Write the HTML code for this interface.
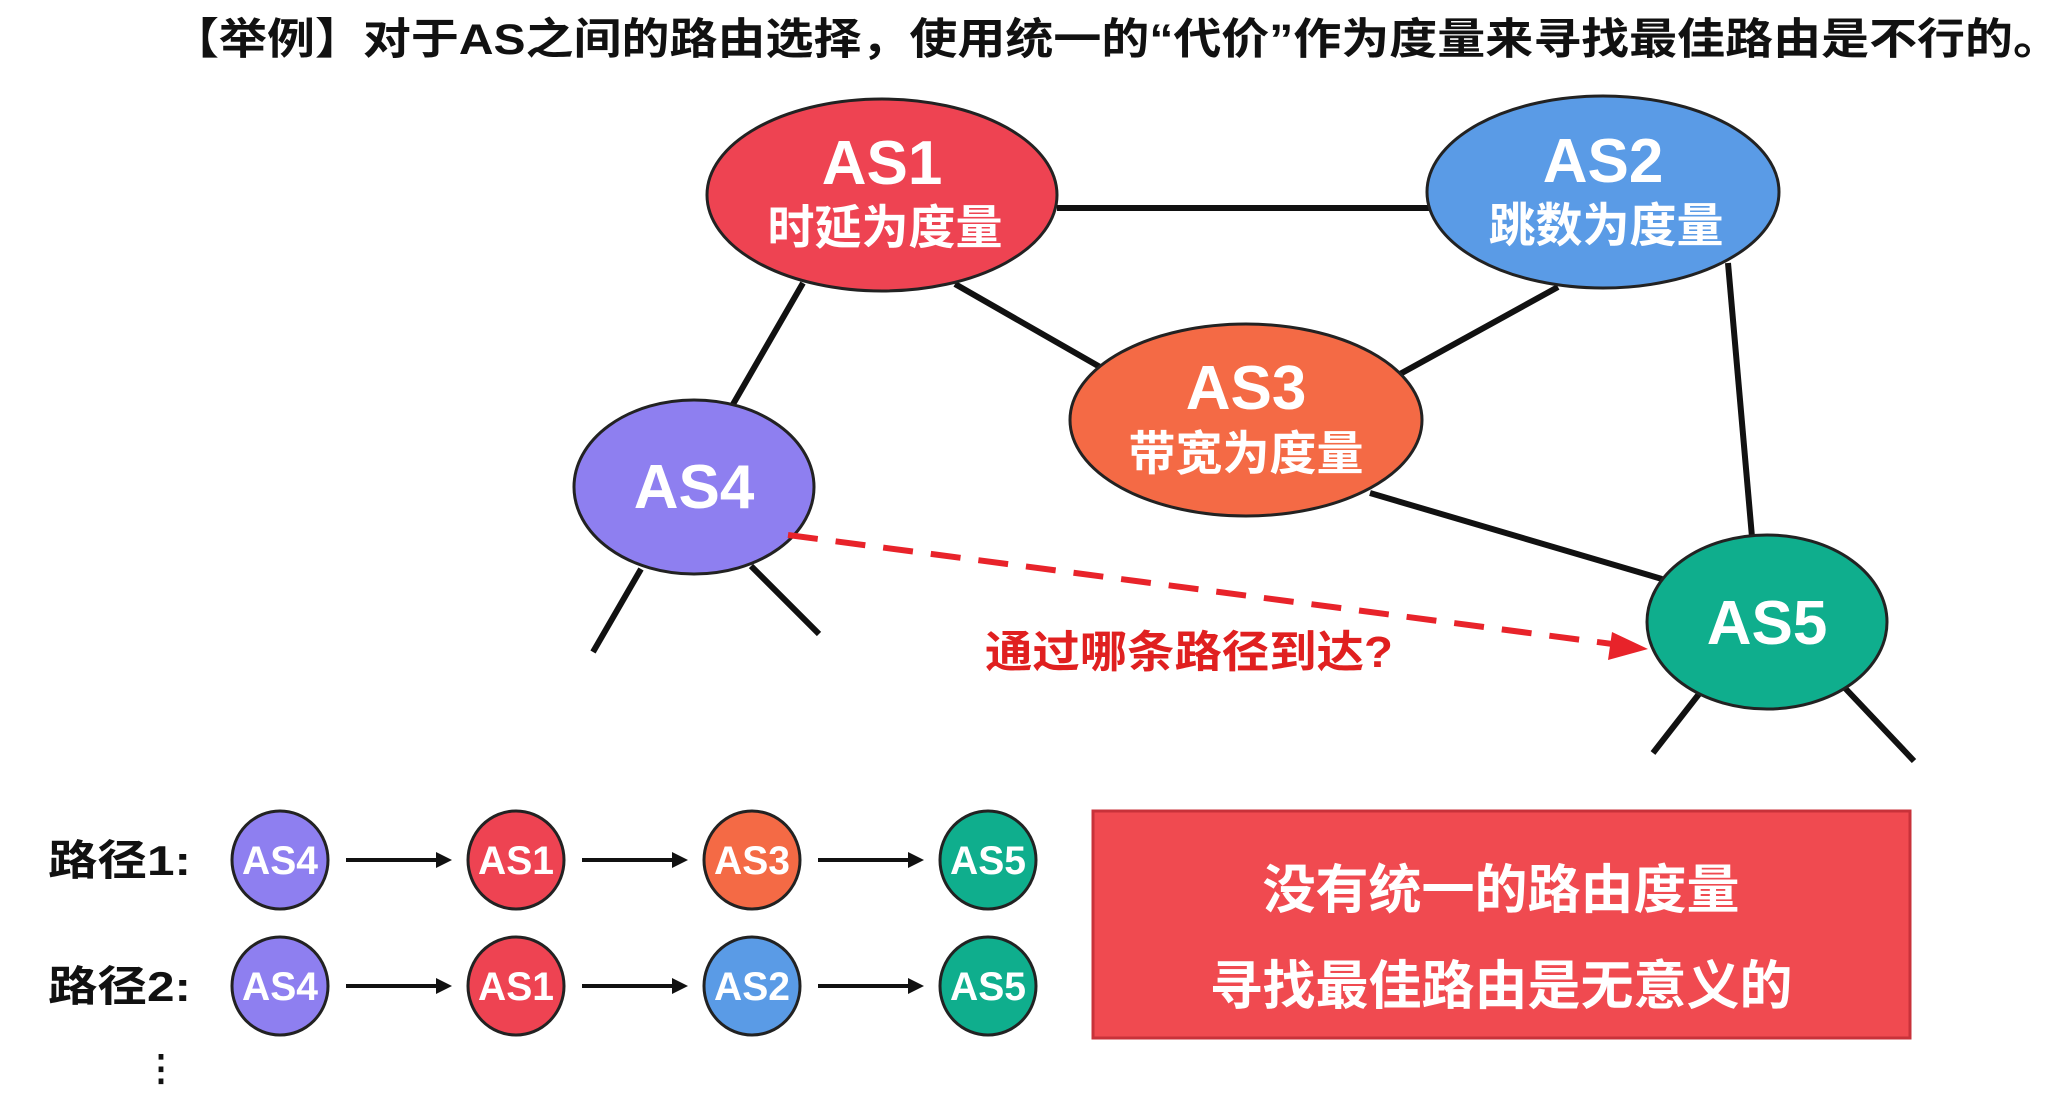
<!DOCTYPE html>
<html><head><meta charset="utf-8"><style>
html,body{margin:0;padding:0;background:#fff;}
svg{display:block;}
text{font-family:"Liberation Sans","Noto Sans CJK SC",sans-serif;font-weight:bold;}
</style></head><body>
<svg width="2065" height="1109" viewBox="0 0 2065 1109" xmlns="http://www.w3.org/2000/svg">
<text x="1116" y="54" font-size="43" text-anchor="middle" fill="#111" textLength="1890" lengthAdjust="spacingAndGlyphs">【举例】对于AS之间的路由选择，使用统一的“代价”作为度量来寻找最佳路由是不行的。</text>
<g stroke="#111" stroke-width="6" fill="none">
<line x1="1057" y1="208" x2="1429" y2="208"/>
<line x1="803" y1="283" x2="732" y2="406"/>
<line x1="955" y1="284" x2="1100" y2="367"/>
<line x1="1558" y1="287" x2="1400" y2="374"/>
<line x1="1728" y1="263" x2="1752" y2="537"/>
<line x1="1370" y1="493" x2="1662" y2="579"/>
<line x1="641" y1="569" x2="593" y2="652"/>
<line x1="751" y1="566" x2="819" y2="634"/>
<line x1="1699" y1="694" x2="1653" y2="753"/>
<line x1="1844" y1="687" x2="1914" y2="761"/>
</g>
<g stroke="#222" stroke-width="3">
<ellipse cx="882" cy="195" rx="175" ry="96" fill="#ee4352"/>
<ellipse cx="1603" cy="192" rx="176" ry="96" fill="#5a9be6"/>
<ellipse cx="1246" cy="420" rx="176" ry="96" fill="#f46a45"/>
<ellipse cx="694" cy="487" rx="120" ry="87" fill="#8e7ff0"/>
<ellipse cx="1767" cy="622" rx="120" ry="87" fill="#0fae8d"/>
</g>
<g fill="#fff" text-anchor="middle">
<text x="882" y="184" font-size="62">AS1</text>
<text x="885" y="244" font-size="47">时延为度量</text>
<text x="1603" y="182" font-size="62">AS2</text>
<text x="1606" y="242" font-size="47">跳数为度量</text>
<text x="1246" y="409" font-size="62">AS3</text>
<text x="1246" y="470" font-size="47">带宽为度量</text>
<text x="694" y="508" font-size="62">AS4</text>
<text x="1767" y="644" font-size="62">AS5</text>
</g>
<line x1="788" y1="535" x2="1620" y2="645" stroke="#e8232a" stroke-width="6" stroke-dasharray="30,18"/>
<polygon points="1648,649 1612,632 1608,660" fill="#e8232a"/>
<text x="1189" y="667" font-size="44" fill="#e02020" text-anchor="middle" textLength="408" lengthAdjust="spacingAndGlyphs">通过哪条路径到达?</text>
<g font-size="42" fill="#111">
<text x="48" y="875" textLength="143" lengthAdjust="spacingAndGlyphs">路径1:</text>
<text x="48" y="1001" textLength="143" lengthAdjust="spacingAndGlyphs">路径2:</text>
<text x="143" y="1080" font-size="36">⋮</text>
</g>
<g stroke="#111" stroke-width="4">
<line x1="346" y1="860" x2="440" y2="860"/><line x1="582" y1="860" x2="676" y2="860"/><line x1="818" y1="860" x2="912" y2="860"/>
<line x1="346" y1="986" x2="440" y2="986"/><line x1="582" y1="986" x2="676" y2="986"/><line x1="818" y1="986" x2="912" y2="986"/>
</g>
<g fill="#111">
<polygon points="452,860 436,852 436,868"/><polygon points="688,860 672,852 672,868"/><polygon points="924,860 908,852 908,868"/>
<polygon points="452,986 436,978 436,994"/><polygon points="688,986 672,978 672,994"/><polygon points="924,986 908,978 908,994"/>
</g>
<g stroke="#222" stroke-width="3">
<ellipse cx="280" cy="860" rx="48" ry="49" fill="#8e7ff0"/>
<ellipse cx="516" cy="860" rx="48" ry="49" fill="#ee4352"/>
<ellipse cx="752" cy="860" rx="48" ry="49" fill="#f46a45"/>
<ellipse cx="988" cy="860" rx="48" ry="49" fill="#0fae8d"/>
<ellipse cx="280" cy="986" rx="48" ry="49" fill="#8e7ff0"/>
<ellipse cx="516" cy="986" rx="48" ry="49" fill="#ee4352"/>
<ellipse cx="752" cy="986" rx="48" ry="49" fill="#5a9be6"/>
<ellipse cx="988" cy="986" rx="48" ry="49" fill="#0fae8d"/>
</g>
<g fill="#fff" font-size="40" text-anchor="middle">
<text x="280" y="874" textLength="76" lengthAdjust="spacingAndGlyphs">AS4</text>
<text x="516" y="874" textLength="76" lengthAdjust="spacingAndGlyphs">AS1</text>
<text x="752" y="874" textLength="76" lengthAdjust="spacingAndGlyphs">AS3</text>
<text x="988" y="874" textLength="76" lengthAdjust="spacingAndGlyphs">AS5</text>
<text x="280" y="1000" textLength="76" lengthAdjust="spacingAndGlyphs">AS4</text>
<text x="516" y="1000" textLength="76" lengthAdjust="spacingAndGlyphs">AS1</text>
<text x="752" y="1000" textLength="76" lengthAdjust="spacingAndGlyphs">AS2</text>
<text x="988" y="1000" textLength="76" lengthAdjust="spacingAndGlyphs">AS5</text>
</g>
<rect x="1093" y="811" width="817" height="227" fill="#f04a50" stroke="#c8323a" stroke-width="3"/>
<g fill="#fff" font-size="53" text-anchor="middle">
<text x="1501" y="908">没有统一的路由度量</text>
<text x="1501" y="1004">寻找最佳路由是无意义的</text>
</g>
</svg>
</body></html>
